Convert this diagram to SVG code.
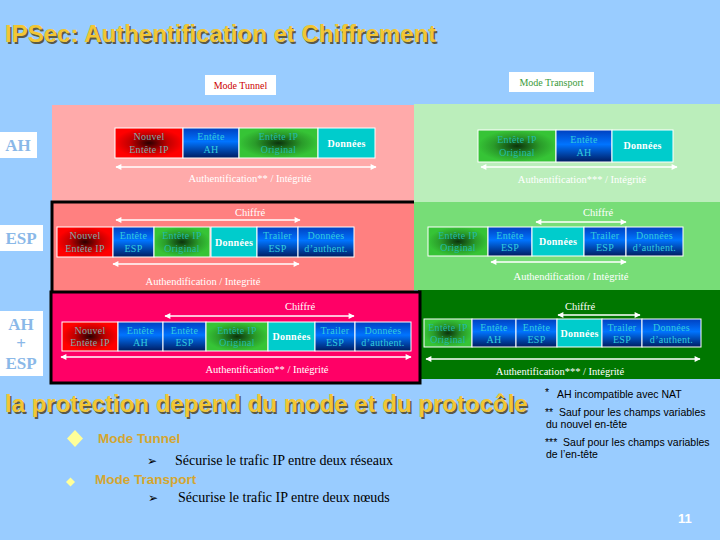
<svg xmlns="http://www.w3.org/2000/svg" width="720" height="540" viewBox="0 0 720 540">
<defs>
<radialGradient id="gRed"><stop offset="0" stop-color="#2a0000"/><stop offset="0.55" stop-color="#c00000"/><stop offset="1" stop-color="#ff0000"/></radialGradient>
<radialGradient id="gGreen"><stop offset="0" stop-color="#0c330c"/><stop offset="0.6" stop-color="#2a9c2a"/><stop offset="1" stop-color="#36c436"/></radialGradient>
<linearGradient id="gBlue" x1="0" y1="0" x2="0" y2="1"><stop offset="0" stop-color="#0040c0"/><stop offset="0.45" stop-color="#0074ff"/><stop offset="1" stop-color="#001c60"/></linearGradient>
<marker id="ah" viewBox="0 0 10 10" refX="9" refY="5" markerWidth="7" markerHeight="6" markerUnits="userSpaceOnUse" orient="auto-start-reverse"><path d="M0,0 L10,5 L0,10 Z" fill="#fff"/></marker>
<style>
.c{stroke:#fff;stroke-width:1}
.red{fill:url(#gRed)} .blue{fill:url(#gBlue)} .green{fill:url(#gGreen)} .teal{fill:#00cccc}
text{font-family:"Liberation Serif",serif}
text.sans,.sans text{font-family:"Liberation Sans",Arial,sans-serif}
text.sym{font-family:"DejaVu Sans",sans-serif}
.ct{font-size:10px;text-anchor:middle;letter-spacing:0.3px}
.tr{fill:#80aaaa} .tb{fill:#33ccdd} .tg{fill:#22bba8} .tt{fill:#fff;font-weight:bold}
.lbl{font-size:10.5px;fill:#fff;text-anchor:middle}
.arr{stroke:#fff;stroke-width:1.6;fill:none;marker-start:url(#ah);marker-end:url(#ah)}
.side{font-size:17px;font-weight:bold;fill:#8ab8e8;text-anchor:middle}
text.fn{font-family:"Liberation Sans",Arial,sans-serif;font-size:10.5px;fill:#000}
</style>
</defs>
<rect width="720" height="540" fill="#99ccff"/>
<!-- title -->
<g id="title" class="sans" font-size="24" font-weight="bold">
<text x="6.5" y="43.5" fill="#5a5a48">IPSec: Authentification et Chiffrement</text>
<text x="5" y="42" fill="#f2c634">IPSec: Authentification et Chiffrement</text>
</g>
<!-- regions -->
<g id="regions">
<rect x="52" y="105" width="362" height="97" fill="#ffaaaa"/>
<rect x="414" y="104" width="306" height="98" fill="#bbeebb"/>
<rect x="414" y="202" width="306" height="88" fill="#77dd77"/>
<rect x="418" y="290" width="302" height="89" fill="#007700"/>
<rect x="52" y="202" width="362" height="90" fill="#ff8080"/>
<path d="M414,202 H52 V292" stroke="#000" stroke-width="3" fill="none"/>
<rect x="51" y="292" width="369" height="91" fill="#ff0066" stroke="#000" stroke-width="3"/>
</g>
<!-- mode labels -->
<g id="mode-tunnel"><rect x="205" y="75" width="71" height="20" fill="#fff"/><text x="240.5" y="89" font-size="10" fill="#cc0000" text-anchor="middle">Mode Tunnel</text></g>
<g id="mode-transport"><rect x="509" y="72" width="85" height="20" fill="#fff"/><text x="551.5" y="86" font-size="10" fill="#3a9a3a" text-anchor="middle">Mode Transport</text></g>
<!-- side labels -->
<g id="lbl-ah"><rect x="0" y="132" width="37" height="26" fill="#fff"/><text class="side" x="18" y="151">AH</text></g>
<g id="lbl-esp"><rect x="0" y="225" width="43" height="26" fill="#fff"/><text class="side" x="21" y="244">ESP</text></g>
<g id="lbl-ahesp"><rect x="0" y="311" width="43" height="65" fill="#fff"/><text class="side" x="21" y="330">AH</text><text class="side" x="21" y="349">+</text><text class="side" x="21" y="369">ESP</text></g>

<!-- Row 1 tunnel -->
<g id="r1t">
<rect class="c red" x="115" y="128" width="68" height="30"/><text class="ct tr" x="149" y="140">Nouvel</text><text class="ct tr" x="149" y="153">Entête IP</text>
<rect class="c blue" x="183" y="128" width="56" height="30"/><text class="ct tb" x="211" y="140">Entête</text><text class="ct tb" x="211" y="153">AH</text>
<rect class="c green" x="239" y="128" width="79" height="30"/><text class="ct tg" x="278.5" y="140">Entête IP</text><text class="ct tg" x="278.5" y="153">Original</text>
<rect class="c teal" x="318" y="128" width="57" height="30"/><text class="ct tt" x="346.5" y="147">Données</text>
</g>
<!-- Row 1 transport -->
<g id="r1p">
<rect class="c green" x="478" y="130" width="78" height="32"/><text class="ct tg" x="517" y="143">Entête IP</text><text class="ct tg" x="517" y="156">Original</text>
<rect class="c blue" x="556" y="130" width="56" height="32"/><text class="ct tb" x="584" y="143">Entête</text><text class="ct tb" x="584" y="156">AH</text>
<rect class="c teal" x="612" y="130" width="61" height="32"/><text class="ct tt" x="642.5" y="149">Données</text>
</g>
<!-- Row 2 tunnel -->
<g id="r2t">
<rect class="c red" x="57" y="227" width="56" height="30"/><text class="ct tr" x="85" y="239">Nouvel</text><text class="ct tr" x="85" y="252">Entête IP</text>
<rect class="c blue" x="113" y="227" width="41" height="30"/><text class="ct tb" x="133.5" y="239">Entête</text><text class="ct tb" x="133.5" y="252">ESP</text>
<rect class="c green" x="154" y="227" width="56" height="30"/><text class="ct tg" x="182" y="239">Entête IP</text><text class="ct tg" x="182" y="252">Original</text>
<rect class="c teal" x="211" y="227" width="46" height="30"/><text class="ct tt" x="234" y="246">Données</text>
<rect class="c blue" x="257" y="227" width="41" height="30"/><text class="ct tb" x="277.5" y="239">Trailer</text><text class="ct tb" x="277.5" y="252">ESP</text>
<rect class="c blue" x="298" y="227" width="56" height="30"/><text class="ct tb" x="326" y="239">Données</text><text class="ct tb" x="326" y="252">d’authent.</text>
</g>
<!-- Row 2 transport -->
<g id="r2p">
<rect class="c green" x="428" y="227" width="60" height="29"/><text class="ct tg" x="458" y="239">Entête IP</text><text class="ct tg" x="458" y="251">Original</text>
<rect class="c blue" x="488" y="227" width="44" height="29"/><text class="ct tb" x="510" y="239">Entête</text><text class="ct tb" x="510" y="251">ESP</text>
<rect class="c teal" x="532" y="227" width="52" height="29"/><text class="ct tt" x="558" y="245">Données</text>
<rect class="c blue" x="584" y="227" width="42" height="29"/><text class="ct tb" x="605" y="239">Trailer</text><text class="ct tb" x="605" y="251">ESP</text>
<rect class="c blue" x="626" y="227" width="57" height="29"/><text class="ct tb" x="654.5" y="239">Données</text><text class="ct tb" x="654.5" y="251">d’authent.</text>
</g>
<!-- Row 3 tunnel -->
<g id="r3t">
<rect class="c red" x="62" y="322" width="56" height="29"/><text class="ct tr" x="90" y="334">Nouvel</text><text class="ct tr" x="90" y="346">Entête IP</text>
<rect class="c blue" x="118" y="322" width="45" height="29"/><text class="ct tb" x="140.5" y="334">Entête</text><text class="ct tb" x="140.5" y="346">AH</text>
<rect class="c blue" x="163" y="322" width="43" height="29"/><text class="ct tb" x="184.5" y="334">Entête</text><text class="ct tb" x="184.5" y="346">ESP</text>
<rect class="c green" x="206" y="322" width="62" height="29"/><text class="ct tg" x="237" y="334">Entête IP</text><text class="ct tg" x="237" y="346">Original</text>
<rect class="c teal" x="268" y="322" width="47" height="29"/><text class="ct tt" x="291.5" y="340">Données</text>
<rect class="c blue" x="315" y="322" width="40" height="29"/><text class="ct tb" x="335" y="334">Trailer</text><text class="ct tb" x="335" y="346">ESP</text>
<rect class="c blue" x="355" y="322" width="56" height="29"/><text class="ct tb" x="383" y="334">Données</text><text class="ct tb" x="383" y="346">d’authent.</text>
</g>
<!-- Row 3 transport -->
<g id="r3p">
<rect class="c green" x="424" y="319" width="48" height="28"/><text class="ct tg" x="448" y="331">Entête IP</text><text class="ct tg" x="448" y="343">Original</text>
<rect class="c blue" x="472" y="319" width="44" height="28"/><text class="ct tb" x="494" y="331">Entête</text><text class="ct tb" x="494" y="343">AH</text>
<rect class="c blue" x="516" y="319" width="41" height="28"/><text class="ct tb" x="536.5" y="331">Entête</text><text class="ct tb" x="536.5" y="343">ESP</text>
<rect class="c teal" x="557" y="319" width="45" height="28"/><text class="ct tt" x="579.5" y="337">Données</text>
<rect class="c blue" x="602" y="319" width="40" height="28"/><text class="ct tb" x="622" y="331">Trailer</text><text class="ct tb" x="622" y="343">ESP</text>
<rect class="c blue" x="642" y="319" width="59" height="28"/><text class="ct tb" x="671.5" y="331">Données</text><text class="ct tb" x="671.5" y="343">d’authent.</text>
</g>

<!-- connectors -->
<g id="connectors">
<line class="arr" x1="116" y1="167" x2="376" y2="167"/>
<line class="arr" x1="481" y1="167" x2="677" y2="167"/>
<line class="arr" x1="116" y1="220" x2="300" y2="220"/>
<line class="arr" x1="113" y1="264" x2="299" y2="264"/>
<line class="arr" x1="536" y1="222" x2="626" y2="222"/>
<line class="arr" x1="491" y1="262" x2="626" y2="262"/>
<line class="arr" x1="165" y1="316" x2="354" y2="316"/>
<line class="arr" x1="61" y1="357" x2="411" y2="357"/>
<line class="arr" x1="558" y1="315" x2="640" y2="315"/>
<line class="arr" x1="426" y1="359" x2="700" y2="359"/>
</g>
<g id="labels">
<text class="lbl" x="250" y="182">Authentification** / Intégrité</text>
<text class="lbl" x="582" y="183">Authentification*** / Intégrité</text>
<text class="lbl" x="250" y="216">Chiffré</text>
<text class="lbl" x="203" y="285">Authendification / Integrité</text>
<text class="lbl" x="598" y="216">Chiffré</text>
<text class="lbl" x="571" y="280">Authendification / Intègrité</text>
<text class="lbl" x="300" y="310">Chiffré</text>
<text class="lbl" x="267" y="373">Authentification** / Intégrité</text>
<text class="lbl" x="580" y="310">Chiffré</text>
<text class="lbl" x="560" y="375">Authentification*** / Intégrité</text>
</g>

<!-- bottom text -->
<g id="subtitle" class="sans" font-size="24" font-weight="bold">
<text x="6.5" y="413.5" fill="#5a5a48">la protection depend du mode et du protocôle</text>
<text x="5" y="412" fill="#f2c634">la protection depend du mode et du protocôle</text>
</g>
<g id="bullets">
<path d="M75,430 L83,438.5 L75,447 L67,438.5 Z" fill="#ffff99"/>
<text class="sans" x="98" y="443" font-size="13.5" font-weight="bold" fill="#d4a630">Mode Tunnel</text>
<text class="sym" x="147" y="465" font-size="12" fill="#000">➢</text>
<text x="175" y="465" font-size="14" fill="#000">Sécurise le trafic IP entre deux réseaux</text>
<path d="M70.5,477.5 L75,482 L70.5,486.5 L66,482 Z" fill="#ffff99"/>
<text class="sans" x="95" y="484" font-size="13.5" font-weight="bold" fill="#d4a630">Mode Transport</text>
<text class="sym" x="148" y="502" font-size="12" fill="#000">➢</text>
<text x="178" y="502" font-size="14" fill="#000">Sécurise le trafic IP entre deux nœuds</text>
</g>
<g id="footnotes">
<text class="fn" x="545" y="396">*</text>
<text class="fn" x="557" y="398">AH incompatible avec NAT</text>
<text class="fn" x="545" y="416" xml:space="preserve">**  Sauf pour les champs variables</text>
<text class="fn" x="546" y="428">du nouvel en-tête</text>
<text class="fn" x="545" y="446" xml:space="preserve">***  Sauf pour les champs variables</text>
<text class="fn" x="546" y="458">de l’en-tête</text>
<text class="sans" x="678" y="523" font-size="13" font-weight="bold" fill="#fff">11</text>
</g>
</svg>
